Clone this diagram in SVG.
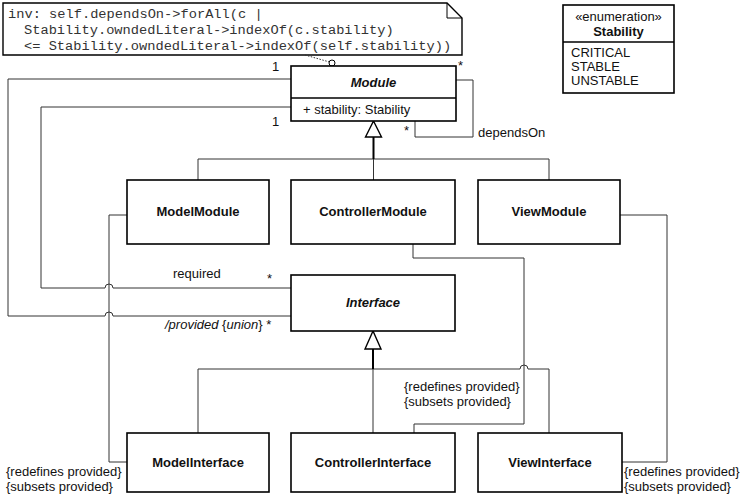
<svg xmlns="http://www.w3.org/2000/svg" width="742" height="497" viewBox="0 0 742 497">
<style>
.box{fill:#fff;stroke:#000;stroke-width:1.6}
.ln{fill:none;stroke:#333;stroke-width:1}
.stem{fill:none;stroke:#000;stroke-width:2}
.tri{fill:#fff;stroke:#000;stroke-width:1.4}
.t{font-family:"Liberation Sans",Arial,sans-serif;font-size:13px;fill:#111}
.b{font-weight:bold;text-anchor:middle}
.i{font-style:italic}
.mono{font-family:"Liberation Mono","Courier New",monospace;font-size:13.7px;fill:#333}
</style>
<rect width="742" height="497" fill="#fff"/>
<g id="note">
<path d="M3 3 H447 L462 18 V55 H3 Z" fill="#fff" stroke="#000" stroke-width="1.4"/>
<path d="M447 3 V18 H462" fill="none" stroke="#000" stroke-width="1"/>
<text class="mono" x="8" y="18">inv: self.dependsOn-&gt;forAll(c |</text>
<text class="mono" x="24" y="34">Stability.owndedLiteral-&gt;indexOf(c.stability)</text>
<text class="mono" x="24" y="50">&lt;= Stability.owndedLiteral-&gt;indexOf(self.stability))</text>
</g>
<g id="connectors">
<path class="ln" d="M305 55 L329.5 62" stroke-dasharray="1.5 1.5"/>
<path class="ln" d="M291 79 H8 V316 H105 A4 4 0 0 1 113 316 H291"/>
<path class="ln" d="M291 107 H41 V288 H105 A4 4 0 0 1 113 288 H291"/>
<path class="ln" d="M127 215 H109 V462 H127"/>
<path class="ln" d="M620 215 H667 V462 H622"/>
<path class="ln" d="M413 244 V258 H524 V424 H414 V433"/>
<path class="ln" d="M456 80 H473 V137 H415 V121"/>
<path class="ln" d="M198 180 V159 H549 V180 M373.5 159 V180"/>
<path class="stem" d="M373.5 137 V159"/>
<polygon class="tri" points="373.5,121 365.5,137 381.5,137"/>
<path class="ln" d="M198 433 V369 H520 A4 4 0 0 1 528 369 H549 V433 M373 369 V433"/>
<path class="stem" d="M373 349 V369"/>
<polygon class="tri" points="373,331 365,349 381,349"/>
<circle cx="332" cy="63" r="3" fill="#fff" stroke="#000" stroke-width="1"/>
<text class="t" x="458" y="70">*</text>
<text class="t" x="272" y="71">1</text>
<text class="t" x="272" y="126">1</text>
<text class="t" x="404" y="135">*</text>
<text class="t" x="478" y="137">dependsOn</text>
<text class="t" x="173" y="278">required</text>
<text class="t" x="267" y="283">*</text>
<text class="t" x="165" y="329"><tspan class="i">/provided</tspan> {<tspan class="i">union</tspan>} *</text>
<text class="t" x="6" y="476">{redefines provided}</text>
<text class="t" x="6" y="491">{subsets provided}</text>
<text class="t" x="404" y="391">{redefines provided}</text>
<text class="t" x="404" y="406">{subsets provided}</text>
<text class="t" x="624" y="476">{redefines provided}</text>
<text class="t" x="624" y="491">{subsets provided}</text>
</g>
<g id="Module">
<rect class="box" x="291" y="66" width="165" height="55"/>
<line x1="291" y1="98" x2="456" y2="98" stroke="#000" stroke-width="1.4"/>
<text class="t b i" x="373.5" y="87">Module</text>
<text class="t" x="303" y="114">+ stability: Stability</text>
</g>
<g id="Stability">
<rect class="box" x="563" y="5" width="111" height="88"/>
<line x1="563" y1="42" x2="674" y2="42" stroke="#000" stroke-width="1.4"/>
<text class="t" x="618.5" y="21" text-anchor="middle">«enumeration»</text>
<text class="t b" x="618.5" y="36">Stability</text>
<text class="t" x="571" y="57">CRITICAL</text>
<text class="t" x="571" y="71">STABLE</text>
<text class="t" x="571" y="85">UNSTABLE</text>
</g>
<g id="ModelModule">
<rect class="box" x="127" y="180" width="142" height="64"/>
<text class="t b" x="198" y="216">ModelModule</text>
</g>
<g id="ControllerModule">
<rect class="box" x="291" y="180" width="164" height="64"/>
<text class="t b" x="373" y="216">ControllerModule</text>
</g>
<g id="ViewModule">
<rect class="box" x="478" y="180" width="142" height="64"/>
<text class="t b" x="549" y="216">ViewModule</text>
</g>
<g id="Interface">
<rect class="box" x="291" y="275" width="164" height="56"/>
<text class="t b i" x="373" y="307">Interface</text>
</g>
<g id="ModelInterface">
<rect class="box" x="127" y="433" width="142" height="59"/>
<text class="t b" x="198" y="467">ModelInterface</text>
</g>
<g id="ControllerInterface">
<rect class="box" x="291" y="433" width="164" height="59"/>
<text class="t b" x="373" y="467">ControllerInterface</text>
</g>
<g id="ViewInterface">
<rect class="box" x="478" y="433" width="144" height="59"/>
<text class="t b" x="550" y="467">ViewInterface</text>
</g>
</svg>
